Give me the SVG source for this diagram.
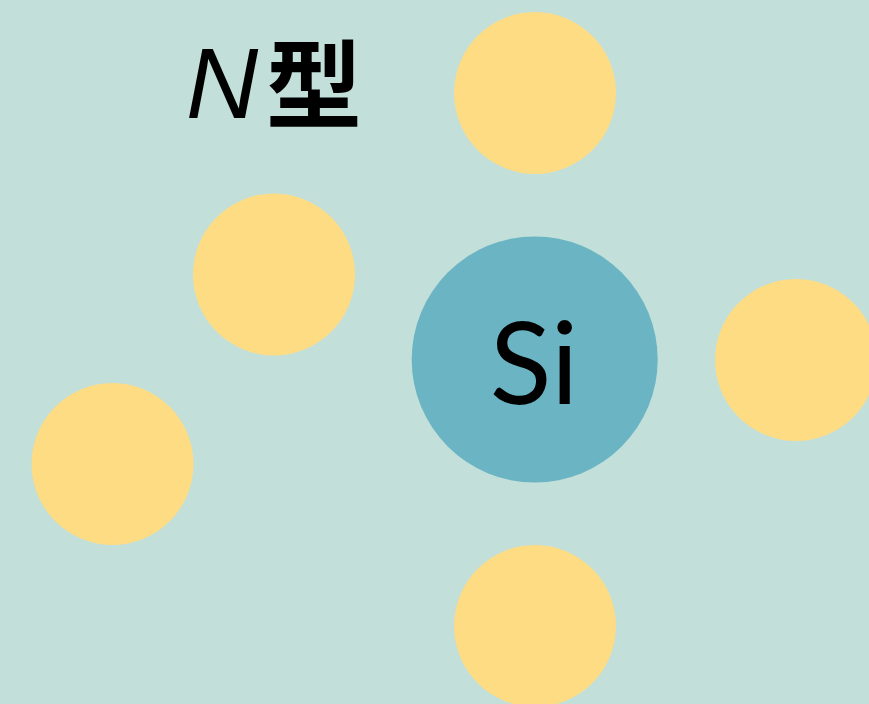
<svg xmlns="http://www.w3.org/2000/svg" width="869" height="704" viewBox="0 0 869 704">
<style>
.y{fill:#fddc84}
.si{fill:#6bb4c4}
.lbl{font-family:"Lato","Noto Sans",sans-serif;font-weight:400;fill:#000}
.ttl{font-family:"Noto Sans CJK SC","Noto Sans",sans-serif;font-weight:700;fill:#000}
</style>
<rect width="869" height="704" fill="#c2dfd9"/>
<g id="title">
<text x="186" y="118" font-size="100" font-style="italic" font-family="Liberation Sans, sans-serif" fill="#000">N</text>
<text class="ttl" x="266" y="120" font-size="96">型</text>
</g>
<g id="connectors"></g>
<g id="e-top"><circle class="y" cx="535" cy="93" r="81"/></g>
<g id="e-upleft"><circle class="y" cx="274" cy="274.5" r="81"/></g>
<g id="e-left"><circle class="y" cx="112.5" cy="464" r="81"/></g>
<g id="e-right"><circle class="y" cx="796" cy="360" r="81"/></g>
<g id="e-bottom"><circle class="y" cx="535" cy="626" r="81"/></g>
<g id="si"><circle class="si" cx="534.7" cy="359.5" r="123"/><text class="lbl" x="534" y="404" font-size="114" text-anchor="middle">Si</text></g>
</svg>
